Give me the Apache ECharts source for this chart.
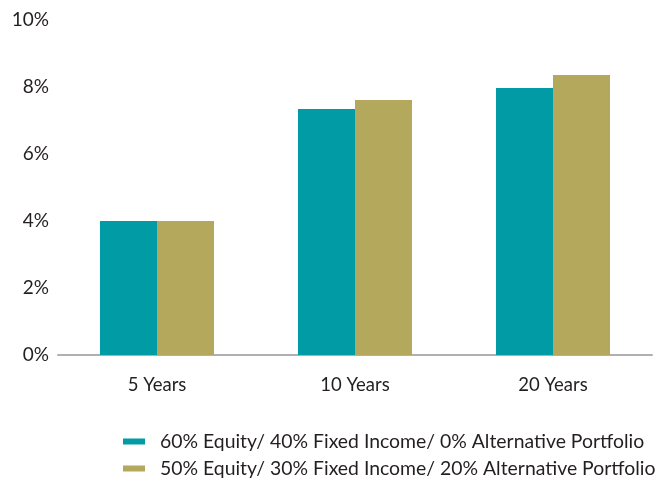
<!DOCTYPE html>
<html>
<head>
<meta charset="utf-8">
<script src="https://cdn.jsdelivr.net/npm/echarts@6/dist/echarts.min.js"></script>
<style>html,body{margin:0;padding:0;background:#fff}#c{width:662px;height:481px}</style>
</head>
<body>
<div id="c"></div>
<script>
const categories = ['5 Years', '10 Years', '20 Years'];
const seriesNames = [
  '60% Equity/ 40% Fixed Income/ 0% Alternative Portfolio',
  '50% Equity/ 30% Fixed Income/ 20% Alternative Portfolio'
];
const portfolio6040 = [4.0, 7.34, 7.97];
const portfolio503020 = [4.0, 7.61, 8.36];
const yTicks = [0, 2, 4, 6, 8, 10];

const font = 'Lato, "Open Sans", sans-serif';
const legendText = {fontFamily: font, fontSize: 19.4, color: '#231f20', padding: [0, 0, 0, 10]};
const chart = echarts.init(document.getElementById('c'), null, {renderer: 'canvas'});
chart.setOption({
  animation: false,
  textStyle: {fontFamily: font},
  grid: {left: 58, right: 10, top: 20, bottom: 126, containLabel: false},
  legend: [
    {left: 123, top: 432, padding: 0, itemWidth: 22, itemHeight: 6, icon: 'rect',
     textStyle: legendText, data: [seriesNames[0]]},
    {left: 123, top: 459, padding: 0, itemWidth: 22, itemHeight: 6, icon: 'rect',
     textStyle: legendText, data: [seriesNames[1]]}
  ],
  xAxis: {
    type: 'category',
    data: categories,
    axisLine: {lineStyle: {color: '#b0b0b0', width: 2}},
    axisTick: {show: false},
    axisLabel: {fontFamily: font, fontSize: 18.5, color: '#231f20', margin: 21}
  },
  yAxis: {
    type: 'value',
    min: yTicks[0],
    max: yTicks[yTicks.length - 1],
    interval: 2,
    splitLine: {show: false},
    axisLine: {show: false},
    axisTick: {show: false},
    axisLabel: {fontFamily: font, fontSize: 19, color: '#231f20', margin: 9, formatter: v => v + '%'}
  },
  series: [
    {name: seriesNames[0], type: 'bar', data: portfolio6040, barWidth: 57, barGap: '0%', itemStyle: {color: '#009ba5'}},
    {name: seriesNames[1], type: 'bar', data: portfolio503020, barWidth: 57, barGap: '0%', itemStyle: {color: '#b4a85c'}}
  ]
});
</script>
</body>
</html>
